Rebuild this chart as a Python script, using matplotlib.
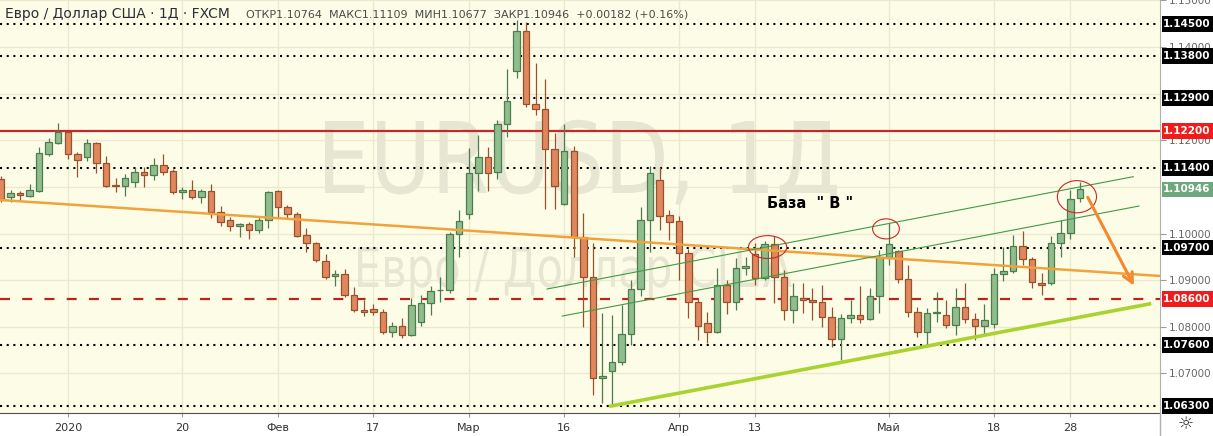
import matplotlib
matplotlib.use("Agg")
import matplotlib.pyplot as plt
import matplotlib.transforms as mtransforms
from matplotlib.patches import Ellipse, Rectangle, PathPatch
from matplotlib.lines import Line2D
from matplotlib.textpath import TextPath
from matplotlib.font_manager import FontProperties
import numpy as np

# daily candles, 23 Dec 2019 .. 29 May 2020 (index = bar number)
opens = [1.1117, 1.1079, 1.1087, 1.1081, 1.1091, 1.1171, 1.1194, 1.1218, 1.1171, 1.1164,
         1.1194, 1.1152, 1.1104, 1.1102, 1.1111, 1.1132, 1.1126, 1.1147, 1.1134, 1.1089,
         1.1094, 1.1079, 1.1091, 1.1046, 1.1029, 1.1016, 1.1021, 1.1008, 1.1029, 1.1091,
         1.1057, 1.1042, 1.0997, 1.0980, 1.0941, 1.0909, 1.0913, 1.0868, 1.0836, 1.0838,
         1.0832, 1.0789, 1.0802, 1.0782, 1.0810, 1.0851, 1.0878, 1.0879, 1.0999, 1.1042,
         1.1130, 1.1164, 1.1132, 1.1235, 1.1349, 1.1435, 1.1278, 1.1267, 1.1182, 1.1064,
         1.1177, 1.0993, 1.0907, 1.0690, 1.0705, 1.0724, 1.0785, 1.0881, 1.1029, 1.1115,
         1.1040, 1.1027, 1.0958, 1.0853, 1.0808, 1.0789, 1.0890, 1.0853, 1.0926, 1.0956,
         1.0905, 1.0978, 1.0907, 1.0836, 1.0862, 1.0857, 1.0853, 1.0821, 1.0774, 1.0819,
         1.0825, 1.0817, 1.0866, 1.0950, 1.0963, 1.0903, 1.0832, 1.0789, 1.0830, 1.0825,
         1.0804, 1.0842, 1.0817, 1.0802, 1.0806, 1.0913, 1.0920, 1.0973, 1.0945, 1.0894,
         1.0894, 1.0980, 1.1001, 1.10764]
highs = [1.1124, 1.1094, 1.1091, 1.1106, 1.1186, 1.1205, 1.1237, 1.1220, 1.1175, 1.1203,
         1.1197, 1.1167, 1.1119, 1.1128, 1.1143, 1.1143, 1.1162, 1.1171, 1.1139, 1.1100,
         1.1115, 1.1096, 1.1106, 1.1059, 1.1036, 1.1023, 1.1025, 1.1036, 1.1091, 1.1094,
         1.1061, 1.1046, 1.1012, 1.0982, 1.0956, 1.0922, 1.0924, 1.0885, 1.0857, 1.0849,
         1.0838, 1.0810, 1.0819, 1.0862, 1.0868, 1.0888, 1.0907, 1.1003, 1.1051, 1.1184,
         1.1212, 1.1186, 1.1244, 1.1353, 1.1458, 1.1454, 1.1366, 1.1332, 1.1216, 1.1235,
         1.1188, 1.1044, 1.0980, 1.0830, 1.0825, 1.0847, 1.0900, 1.1057, 1.1145, 1.1143,
         1.1051, 1.1038, 1.0967, 1.0862, 1.0832, 1.0926, 1.0900, 1.0948, 1.0950, 1.0980,
         1.0984, 1.0995, 1.0922, 1.0894, 1.0894, 1.0883, 1.0889, 1.0842, 1.0827, 1.0857,
         1.0887, 1.0883, 1.0965, 1.1023, 1.0965, 1.0933, 1.0842, 1.0840, 1.0875, 1.0857,
         1.0883, 1.0894, 1.0830, 1.0849, 1.0926, 1.0971, 1.0997, 1.1006, 1.0950, 1.0915,
         1.0995, 1.1029, 1.1094, 1.11109]
lows = [1.1068, 1.1068, 1.1070, 1.1079, 1.1089, 1.1167, 1.1192, 1.1160, 1.1121, 1.1156,
        1.1130, 1.1100, 1.1089, 1.1081, 1.1100, 1.1100, 1.1115, 1.1126, 1.1085, 1.1074,
        1.1074, 1.1066, 1.1033, 1.1016, 1.1006, 1.0993, 1.0988, 1.1001, 1.1012, 1.1036,
        1.1031, 1.0993, 1.0960, 1.0939, 1.0902, 1.0888, 1.0864, 1.0832, 1.0823, 1.0825,
        1.0785, 1.0778, 1.0776, 1.0780, 1.0802, 1.0825, 1.0853, 1.0872, 1.0950, 1.1031,
        1.1091, 1.1091, 1.1117, 1.1207, 1.1334, 1.1272, 1.1255, 1.1053, 1.1053, 1.1062,
        1.0950, 1.0800, 1.0654, 1.0636, 1.0630, 1.0718, 1.0761, 1.0866, 1.0960, 1.1008,
        1.0986, 1.0900, 1.0819, 1.0772, 1.0765, 1.0787, 1.0827, 1.0836, 1.0911, 1.0890,
        1.0900, 1.0851, 1.0815, 1.0808, 1.0830, 1.0815, 1.0800, 1.0757, 1.0729, 1.0808,
        1.0808, 1.0815, 1.0830, 1.0933, 1.0894, 1.0821, 1.0778, 1.0757, 1.0810, 1.0797,
        1.0782, 1.0808, 1.0772, 1.0785, 1.0797, 1.0898, 1.0916, 1.0933, 1.0883, 1.0868,
        1.0890, 1.0950, 1.0988, 1.10677]
closes = [1.1074, 1.1087, 1.1083, 1.1094, 1.1173, 1.1197, 1.1218, 1.1171, 1.1158, 1.1194,
          1.1152, 1.1102, 1.1103, 1.1119, 1.1132, 1.1126, 1.1147, 1.1132, 1.1089, 1.1094,
          1.1079, 1.1091, 1.1046, 1.1025, 1.1016, 1.1021, 1.1008, 1.1029, 1.1089, 1.1057,
          1.1042, 1.0995, 1.0980, 1.0943, 1.0907, 1.0913, 1.0868, 1.0836, 1.0832, 1.0832,
          1.0789, 1.0802, 1.0782, 1.0847, 1.0851, 1.0877, 1.0879, 1.0999, 1.1027, 1.1130,
          1.1164, 1.1130, 1.1235, 1.1285, 1.1435, 1.1278, 1.1267, 1.1182, 1.1102, 1.1177,
          1.0993, 1.0907, 1.0690, 1.0694, 1.0724, 1.0785, 1.0881, 1.1029, 1.1130, 1.1038,
          1.1025, 1.0958, 1.0853, 1.0802, 1.0789, 1.0890, 1.0853, 1.0926, 1.0930, 1.0905,
          1.0978, 1.0907, 1.0836, 1.0866, 1.0857, 1.0853, 1.0821, 1.0774, 1.0819, 1.0825,
          1.0817, 1.0866, 1.0950, 1.0978, 1.0903, 1.0832, 1.0789, 1.0830, 1.0832, 1.0804,
          1.0842, 1.0817, 1.0802, 1.0815, 1.0913, 1.0920, 1.0973, 1.0945, 1.0896, 1.0890,
          1.0980, 1.1001, 1.1074, 1.10946]

date_ticks = [7, 19, 29, 39, 49, 59, 71, 79, 93, 104, 112]
date_labels = ["2020", "20", "Фев", "17", "Мар", "16", "Апр", "13", "Май", "18", "28"]

dotted_levels = [1.145, 1.138, 1.129, 1.114, 1.097, 1.076, 1.063]
red_solid_level = 1.122
red_dashed_level = 1.086
last_price = 1.10946
grid_levels = [1.07, 1.08, 1.09, 1.10, 1.11, 1.12, 1.13, 1.14, 1.15]
scale_labels = [1.07, 1.08, 1.09, 1.10, 1.12, 1.14, 1.15]

# drawn lines: (x0, y0, x1, y1) in bar index / price
orange_trend = (-0.1, 1.1072, 121.4, 1.0909)
channel_upper = (57.2, 1.0881, 118.6, 1.1122)
channel_lower = (58.8, 1.0823, 119.2, 1.1059)
support_line = (63.9, 1.0630, 120.3, 1.0849)
# circled highs: (x, y, width, height)
circles = [(80.3, 1.0971, 4.0, 0.0049), (92.7, 1.1010, 2.8, 0.0043), (112.7, 1.1079, 4.1, 0.0069)]

BG = "#fdfde7"
GREEN_FILL, GREEN_EDGE = "#8fbd8c", "#4d7d4f"
RED_FILL, RED_EDGE = "#e0875e", "#97512f"
WM_COLOR = "#e6e6d3"

W, H = 1213, 436
fig = plt.figure(figsize=(W / 100, H / 100), dpi=100, facecolor="white")
ax = fig.add_axes([0, 23 / H, 1160 / W, 413 / H])
ax.set_facecolor(BG)

ax.set_xlim(-0.1, 121.4)
ax.set_ylim(1.0615, 1.1501)

# grid
for t in date_ticks:
    ax.axvline(t, color="#ebe9cf", lw=1, zorder=0)
for t in grid_levels:
    ax.axhline(t, color="#ebe9cf", lw=1, zorder=0)


def watermark(text, left, right, baseline, cap):
    # text squeezed into a pixel box: left/right edges, baseline and cap height
    fp = FontProperties(family=["Liberation Sans Narrow", "DejaVu Sans"])
    tp = TextPath((0, 0), text, size=100, prop=fp)
    ext = tp.get_extents()
    cap_ref = TextPath((0, 0), "E", size=100, prop=fp).get_extents().height
    tr = (mtransforms.Affine2D().translate(-ext.x0, 0)
          .scale((right - left) / ext.width, cap / cap_ref)
          .translate(left, H - baseline))
    ax.add_patch(PathPatch(tp, transform=tr, facecolor=WM_COLOR, edgecolor="none", zorder=0.5))


watermark("EURUSD, 1Д", 325, 837, 193, 72)
watermark("Евро / Доллар США", 358, 792, 287, 40)

# levels
for lv in dotted_levels:
    ax.axhline(lv, color="black", lw=1.5, ls=(0, (1, 2.2)), zorder=1)
ax.axhline(red_solid_level, color="#c62828", lw=1.6, zorder=1)
ax.axhline(red_dashed_level, color="#b8251f", lw=1.6, ls=(0, (4.5, 5.5)), zorder=1)

# candles
o = np.array(opens)
h = np.array(highs)
l = np.array(lows)
c = np.array(closes)
x = np.arange(len(o))
up = c >= o
ax.vlines(x[up], l[up], h[up], color=GREEN_EDGE, lw=0.9, zorder=2)
ax.vlines(x[~up], l[~up], h[~up], color=RED_EDGE, lw=0.9, zorder=2)
body = np.maximum(np.abs(c - o), 0.00006)
ax.bar(x[up], body[up], bottom=np.minimum(o, c)[up], width=0.68,
       color=GREEN_FILL, edgecolor=GREEN_EDGE, lw=0.9, zorder=3)
ax.bar(x[~up], body[~up], bottom=np.minimum(o, c)[~up], width=0.68,
       color=RED_FILL, edgecolor=RED_EDGE, lw=0.9, zorder=3)

# drawings
ax.plot(orange_trend[::2], orange_trend[1::2], color="#f2a23a", lw=1.8, zorder=4)
ax.plot(channel_upper[::2], channel_upper[1::2], color="#3f9b45", lw=0.8, zorder=4)
ax.plot(channel_lower[::2], channel_lower[1::2], color="#3f9b45", lw=0.8, zorder=4)
ax.plot(support_line[::2], support_line[1::2], color="#a9d330", lw=2.6, zorder=4)
for cx, cy, cw, ch in circles:
    ax.add_patch(Ellipse((cx, cy), cw, ch, fill=False, edgecolor="#cc2626", lw=0.8, zorder=5))
ax.annotate("", xy=(118.8, 1.0883), xytext=(113.7, 1.1083),
            arrowprops=dict(arrowstyle="->,head_length=0.7,head_width=0.35",
                            color="#f5882c", lw=2.2), zorder=5)
ax.text(80.2, 1.1064, "База  \" В \"", ha="left", va="center", fontsize=10.5,
        fontweight="bold", color="black", zorder=5)

# header
ax.text(0.004, 0.966, "Евро / Доллар США · 1Д · FXCM", transform=ax.transAxes,
        ha="left", va="center", fontsize=10, color="#2a2e39", zorder=6)
ax.text(0.212, 0.966, "ОТКР1.10764  МАКС1.11109  МИН1.10677  ЗАКР1.10946  +0.00182 (+0.16%)",
        transform=ax.transAxes, ha="left", va="center", fontsize=8, color="#4a4a4a", zorder=6)

# axes styling
for s in ["top", "left"]:
    ax.spines[s].set_visible(False)
ax.spines["right"].set_color("#b0b0b0")
ax.spines["bottom"].set_color("#505050")
ax.yaxis.tick_right()
ax.set_yticks(scale_labels)
ax.set_yticklabels([f"{t:.5f}" for t in scale_labels])
ax.tick_params(axis="y", length=4, color="#999999", labelsize=7.5, labelcolor="#666666", pad=2)
ax.set_xticks(date_ticks)
ax.set_xticklabels(date_labels)
ax.tick_params(axis="x", length=3, color="#999999", labelsize=8, labelcolor="#333333", pad=4)

# price labels on the right scale
trans = mtransforms.blended_transform_factory(ax.transAxes, ax.transData)
box_h = 0.0034
boxes = [(lv, "black") for lv in dotted_levels] + [(red_solid_level, "#f01c1c"),
                                                   (red_dashed_level, "#f01c1c"),
                                                   (last_price, "#6ea67e")]
for lv, col in boxes:
    ax.add_patch(Rectangle((1 + 2 / 1160, lv - box_h / 2), 51 / 1160, box_h, transform=trans,
                           facecolor=col, edgecolor="none", clip_on=False, zorder=10))
    ax.text(1 + 27 / 1160, lv, f"{lv:.5f}", transform=trans, ha="center", va="center",
            fontsize=7.5, fontweight="bold", color="white", clip_on=False, zorder=11)

# bottom right corner
fig.add_artist(Line2D([1160 / W, 1160 / W], [0, 23 / H], color="#b0b0b0", lw=1))
fig.text(1186 / W, 12 / H, "☼", ha="center", va="center", fontsize=13, color="#333333")

fig.savefig("out.png", dpi=100, facecolor="white")
